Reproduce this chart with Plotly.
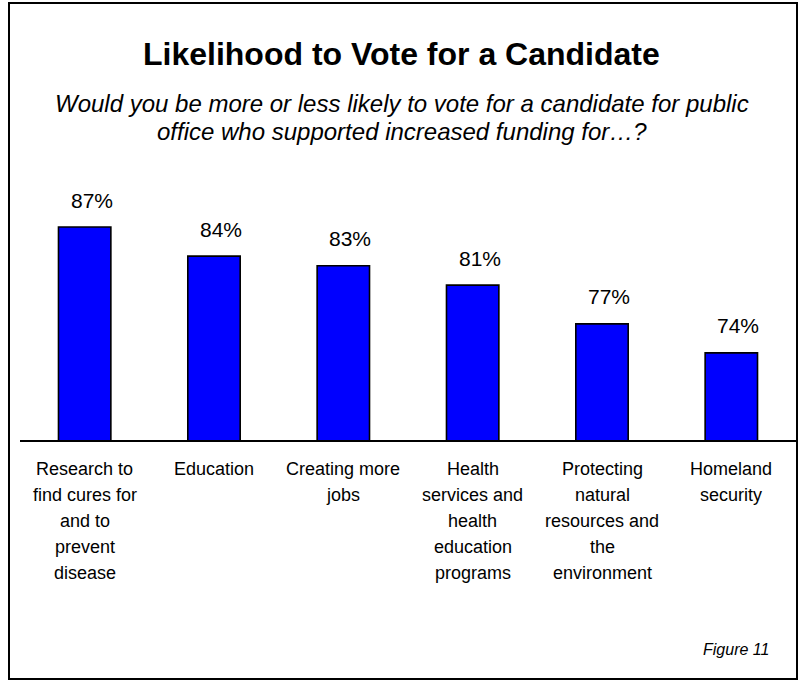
import plotly.graph_objects as go

categories = [
    "Research to<br>find cures for<br>and to<br>prevent<br>disease",
    "Education",
    "Creating more<br>jobs",
    "Health<br>services and<br>health<br>education<br>programs",
    "Protecting<br>natural<br>resources and<br>the<br>environment",
    "Homeland<br>security",
]
values = [87, 84, 83, 81, 77, 74]
value_labels = ["87%", "84%", "83%", "81%", "77%", "74%"]

title_text = "Likelihood to Vote for a Candidate"
subtitle_lines = [
    "Would you be more or less likely to vote for a candidate for public",
    "office who supported increased funding for\u2026?",
]
figure_note = "Figure 11"

W, H = 804, 682
ML, MR, MT, MB = 20, 8, 198, 242
PLOT_H = H - MT - MB
PLOT_W = W - ML - MR
FONT = "Liberation Sans, Arial, sans-serif"


def py(p):
    return (H - MB - p) / PLOT_H


def px(p):
    return (p - ML) / PLOT_W


x_idx = list(range(len(categories)))

fig = go.Figure()
fig.add_trace(go.Bar(
    x=x_idx, y=values,
    marker=dict(color="#0000FF", line=dict(color="black", width=1.6)),
    width=0.405,
    hoverinfo="skip",
))

annotations = []
# value labels
for i, (v, t) in enumerate(zip(values, value_labels)):
    annotations.append(dict(
        x=i, y=v, xref="x", yref="y", text=t, showarrow=False,
        yanchor="middle", xanchor="center", yshift=27, xshift=7,
        font=dict(family=FONT, size=21, color="black"),
    ))
# category labels, one line each
for i, cat in enumerate(categories):
    for j, line in enumerate(cat.split("<br>")):
        annotations.append(dict(
            x=i, y=0, xref="x", yref="paper", text=line, showarrow=False,
            yanchor="middle", xanchor="center", yshift=-(29 + 26 * j),
            font=dict(family=FONT, size=18, color="black"),
        ))
# title
annotations.append(dict(
    x=px(401), y=py(54), xref="paper", yref="paper", text="<b>" + title_text + "</b>",
    showarrow=False, xanchor="center", yanchor="middle",
    font=dict(family=FONT, size=32, color="black"),
))
for k, line in enumerate(subtitle_lines):
    annotations.append(dict(
        x=px(402), y=py(103 + 28 * k), xref="paper", yref="paper", text="<i>" + line + "</i>",
        showarrow=False, xanchor="center", yanchor="middle",
        font=dict(family=FONT, size=24, color="black"),
    ))
annotations.append(dict(
    x=px(771), y=py(649), xref="paper", yref="paper", text="<i>" + figure_note + "</i>",
    showarrow=False, xanchor="right", yanchor="middle",
    font=dict(family=FONT, size=16, color="black"),
))

shapes = [dict(
    type="rect", xref="paper", yref="paper",
    x0=px(9), x1=px(797), y0=py(679), y1=py(3),
    line=dict(color="black", width=2), fillcolor="rgba(0,0,0,0)", layer="above",
)]

fig.update_layout(
    width=W, height=H,
    margin=dict(l=ML, r=MR, t=MT, b=MB, pad=0),
    paper_bgcolor="white", plot_bgcolor="white",
    showlegend=False,
    annotations=annotations,
    shapes=shapes,
    xaxis=dict(range=[-0.5, len(categories) - 0.5], showticklabels=False, ticks="",
               showgrid=False, zeroline=False, showline=True, linecolor="black", linewidth=2,
               fixedrange=True),
    yaxis=dict(range=[65, 90], visible=False, showgrid=False, zeroline=False, fixedrange=True),
)

fig.write_html("out.html", config={"displayModeBar": False})
